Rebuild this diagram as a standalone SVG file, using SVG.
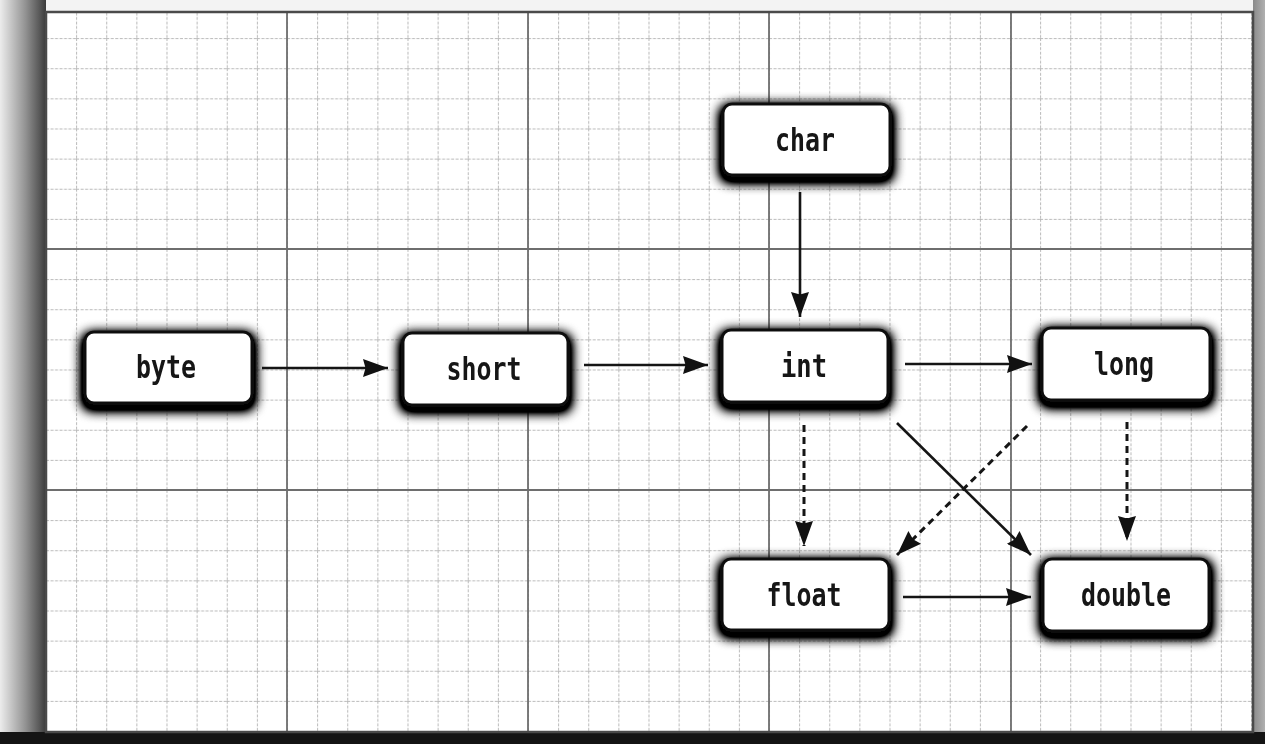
<svg xmlns="http://www.w3.org/2000/svg" width="1265" height="744" viewBox="0 0 1265 744">
  <style>
    .box { fill: #ffffff; stroke: #111111; stroke-width: 3; }
    .lbl { font-family: "DejaVu Sans Mono", "Liberation Mono", monospace; font-weight: bold; font-size: 32px; fill: #141414; text-anchor: middle; }
    .edge { fill: none; stroke: #151515; stroke-width: 2.6; }
    .dash { stroke-dasharray: 7 5; stroke-width: 3; }
    .minor { stroke: #b8b8b8; stroke-width: 1; fill: none; }
    .major { stroke: #6e6e6e; stroke-width: 1.8; }
  </style>
  <defs>
    <linearGradient id="leftEdge" x1="0" y1="0" x2="1" y2="0">
      <stop offset="0" stop-color="#ececec"/>
      <stop offset="0.25" stop-color="#c4c4c4"/>
      <stop offset="0.55" stop-color="#939393"/>
      <stop offset="0.85" stop-color="#5a5a5a"/>
      <stop offset="1" stop-color="#3a3a3a"/>
    </linearGradient>
    <linearGradient id="rightEdge" x1="0" y1="0" x2="1" y2="0">
      <stop offset="0" stop-color="#8a8a8a"/>
      <stop offset="1" stop-color="#b0b0b0"/>
    </linearGradient>
    <pattern id="grid" x="46" y="8" width="30.125" height="30.125" patternUnits="userSpaceOnUse">
      <path class="minor" d="M0.5,0 V30.125 M0,0.5 H30.125" stroke-dasharray="3 1.5"/>
    </pattern>
    <!-- soft dark halo around each node, heavier below -->
    <filter id="halo" x="-20%" y="-40%" width="140%" height="190%">
      <feMorphology in="SourceAlpha" operator="dilate" radius="2" result="d"/>
      <feGaussianBlur in="d" stdDeviation="6" result="b"/>
      <feOffset in="b" dy="4" result="o"/>
      <feComponentTransfer in="o" result="s">
        <feFuncA type="linear" slope="1.9"/>
      </feComponentTransfer>
      <feMerge>
        <feMergeNode in="s"/>
        <feMergeNode in="SourceGraphic"/>
      </feMerge>
    </filter>
    <marker id="head" markerUnits="userSpaceOnUse" markerWidth="26" markerHeight="18" refX="25" refY="9" orient="auto">
      <path d="M0,0 L25,9 L0,18 L2.5,9 Z" fill="#111111"/>
    </marker>
  </defs>

  <!-- paper, edge shading and frame -->
  <rect x="0" y="0" width="1265" height="744" fill="#f3f3f3"/>
  <rect x="0" y="0" width="46" height="744" fill="url(#leftEdge)"/>
  <rect x="1253" y="0" width="12" height="744" fill="url(#rightEdge)"/>
  <rect x="0" y="732" width="1265" height="12" fill="#141414"/>
  <rect x="46" y="12" width="1207" height="720" fill="#ffffff"/>
  <rect x="46" y="12" width="1207" height="720" fill="url(#grid)"/>
  <g id="major-lines" class="major">
    <line x1="287" y1="12" x2="287" y2="732"/>
    <line x1="528" y1="12" x2="528" y2="732"/>
    <line x1="769" y1="12" x2="769" y2="732"/>
    <line x1="1011" y1="12" x2="1011" y2="732"/>
    <line x1="46" y1="249" x2="1253" y2="249"/>
    <line x1="46" y1="490" x2="1253" y2="490"/>
  </g>
  <rect x="46" y="12" width="1207" height="720" fill="none" stroke="#4a4a4a" stroke-width="2.5"/>

  <!-- connectors -->
  <g id="connectors" class="edge">
    <path d="M262,368 H388" marker-end="url(#head)"/>
    <path d="M584,365 H708" marker-end="url(#head)"/>
    <path d="M905,364 H1032" marker-end="url(#head)"/>
    <path d="M800,192 V317" marker-end="url(#head)"/>
    <path d="M903,597 H1031" marker-end="url(#head)"/>
    <path d="M897,423 L1031,555" marker-end="url(#head)"/>
    <path class="dash" d="M804,425 V546" marker-end="url(#head)"/>
    <path class="dash" d="M1127,422 V541" marker-end="url(#head)"/>
    <path class="dash" d="M1027,426 L897,555" marker-end="url(#head)"/>
  </g>

  <!-- nodes -->
  <g id="node-byte" filter="url(#halo)">
    <rect class="box" x="85" y="332" width="167" height="71" rx="9"/>
    <text class="lbl" x="166" y="378" textLength="60" lengthAdjust="spacingAndGlyphs">byte</text>
  </g>
  <g id="node-short" filter="url(#halo)">
    <rect class="box" x="403" y="333" width="165" height="72" rx="9"/>
    <text class="lbl" x="484" y="380" textLength="75" lengthAdjust="spacingAndGlyphs">short</text>
  </g>
  <g id="node-char" filter="url(#halo)">
    <rect class="box" x="723" y="104" width="167" height="71" rx="9"/>
    <text class="lbl" x="805" y="151" textLength="60" lengthAdjust="spacingAndGlyphs">char</text>
  </g>
  <g id="node-int" filter="url(#halo)">
    <rect class="box" x="722" y="330" width="166" height="72" rx="9"/>
    <text class="lbl" x="804" y="377" textLength="46" lengthAdjust="spacingAndGlyphs">int</text>
  </g>
  <g id="node-long" filter="url(#halo)">
    <rect class="box" x="1042" y="328" width="168" height="72" rx="9"/>
    <text class="lbl" x="1124" y="375" textLength="60" lengthAdjust="spacingAndGlyphs">long</text>
  </g>
  <g id="node-float" filter="url(#halo)">
    <rect class="box" x="722" y="559" width="167" height="71" rx="9"/>
    <text class="lbl" x="804" y="606" textLength="75" lengthAdjust="spacingAndGlyphs">float</text>
  </g>
  <g id="node-double" filter="url(#halo)">
    <rect class="box" x="1043" y="559" width="166" height="72" rx="9"/>
    <text class="lbl" x="1126" y="606" textLength="90" lengthAdjust="spacingAndGlyphs">double</text>
  </g>
</svg>
